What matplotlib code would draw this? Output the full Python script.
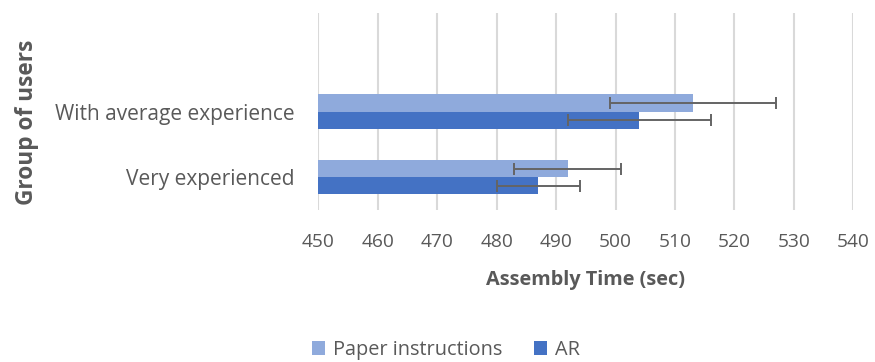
import matplotlib
matplotlib.use("Agg")
import matplotlib.pyplot as plt
import numpy as np

categories = ["Very experienced", "With average experience"]
series_names = ["Paper instructions", "AR"]
paper_vals = [492, 513]
paper_err = [9, 14]
ar_vals = [487, 504]
ar_err = [7, 12]
xticks = [450, 460, 470, 480, 490, 500, 510, 520, 530, 540]

plt.rcParams['font.family'] = ['Open Sans', 'DejaVu Sans']

fig = plt.figure(figsize=(8.75, 3.62), dpi=100)
L, R, T, B = 318.3 / 875, 853.3 / 875, 13 / 362, 210 / 362
ax = fig.add_axes([L, 1 - B, R - L, B - T])

y = np.arange(len(categories))
h = 0.26
text_c = "#595959"
ax.barh(y + h / 2, [v - 450 for v in paper_vals], height=h, left=450, color="#8FAADC",
        label=series_names[0], zorder=2)
ax.barh(y - h / 2, [v - 450 for v in ar_vals], height=h, left=450, color="#4472C4",
        label=series_names[1], zorder=2)
ax.errorbar(paper_vals, y + h / 2, xerr=paper_err, fmt="none", ecolor="#646464",
            elinewidth=1.4, capsize=4.3, capthick=1.4, zorder=3)
ax.errorbar(ar_vals, y - h / 2, xerr=ar_err, fmt="none", ecolor="#646464",
            elinewidth=1.4, capsize=4.3, capthick=1.4, zorder=3)

ax.set_xlim(450, 540)
ax.set_ylim(-0.5, 2.5)
ax.set_xticks(xticks)
ax.set_xticklabels([str(t) for t in xticks], fontsize=13.8, color=text_c)
ax.set_yticks(y)
ax.set_yticklabels(categories, fontsize=15, color=text_c)
ax.tick_params(axis="x", length=0, pad=16.5)
ax.tick_params(axis="y", length=0, pad=16.8)
ax.grid(axis="x", color="#D9D9D9", linewidth=1.5, zorder=0)
ax.set_axisbelow(True)
for s in ax.spines.values():
    s.set_visible(False)

fig.text(585.5 / 875, 1 - 280 / 362, "Assembly Time (sec)", ha="center", va="center",
         fontsize=14.3, fontweight="bold", color=text_c)
fig.text(27 / 875, 1 - 122 / 362, "Group of users", ha="center", va="center",
         rotation=90, fontsize=16.3, fontweight="bold", color=text_c)

handles, labels = ax.get_legend_handles_labels()
fig.legend(handles, labels, loc="center", bbox_to_anchor=(446 / 875, 1 - 350 / 362),
           ncol=2, frameon=False, fontsize=14.3, handlelength=0.65, handleheight=0.65,
           handletextpad=0.4, columnspacing=1.6, labelcolor=text_c)

fig.savefig("out.png", dpi=100)
